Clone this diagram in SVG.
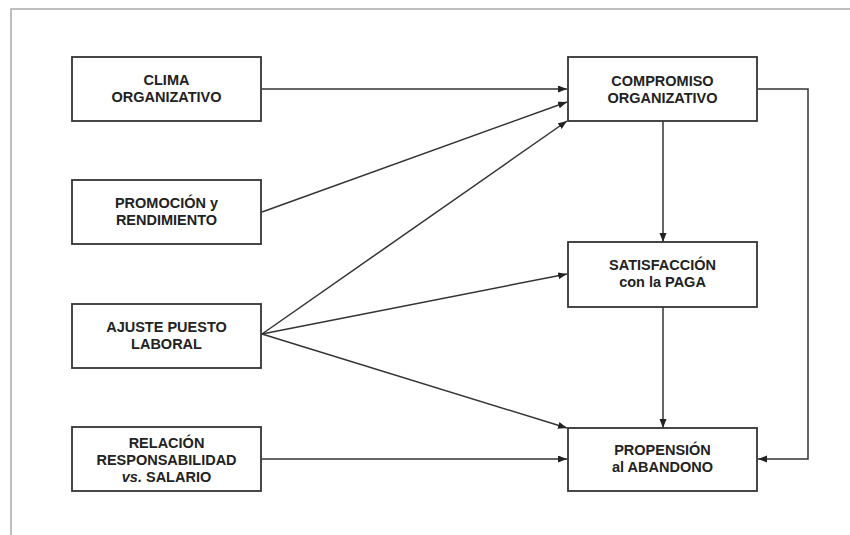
<svg xmlns="http://www.w3.org/2000/svg" width="850" height="535" viewBox="0 0 850 535">
<style>
.box{fill:#fff;stroke:#333;stroke-width:1.8}
.t{font-family:"Liberation Sans",Arial,sans-serif;font-weight:bold;font-size:14.5px;fill:#222;text-anchor:middle}
.c{fill:none;stroke:#333;stroke-width:1.5}
.frame{fill:none;stroke:#aaa;stroke-width:1.5}
</style>
<defs>
<marker id="ah" markerUnits="userSpaceOnUse" markerWidth="10" markerHeight="8" refX="9" refY="3.5" orient="auto">
<path d="M0,0 L9,3.5 L0,7 z" fill="#222"/>
</marker>
</defs>
<rect width="850" height="535" fill="#fff"/>
<path class="frame" d="M11,535 V9 H850"/>
<g id="connectors">
<line class="c" x1="262" y1="89" x2="567" y2="89" marker-end="url(#ah)"/>
<line class="c" x1="262" y1="212" x2="567" y2="102" marker-end="url(#ah)"/>
<line class="c" x1="262" y1="334" x2="567" y2="121" marker-end="url(#ah)"/>
<line class="c" x1="262" y1="334" x2="567" y2="274" marker-end="url(#ah)"/>
<line class="c" x1="262" y1="334" x2="567" y2="428" marker-end="url(#ah)"/>
<line class="c" x1="262" y1="459" x2="567" y2="459" marker-end="url(#ah)"/>
<line class="c" x1="663" y1="121" x2="663" y2="242" marker-end="url(#ah)"/>
<line class="c" x1="663" y1="307" x2="663" y2="428" marker-end="url(#ah)"/>
<polyline class="c" points="758,89 808,89 808,459 758,459" marker-end="url(#ah)"/>
</g>
<g id="clima">
<rect class="box" x="72" y="57" width="189" height="64"/>
<text class="t" x="166.5" y="85">CLIMA</text>
<text class="t" x="166.5" y="102">ORGANIZATIVO</text>
</g>
<g id="promocion">
<rect class="box" x="72" y="180" width="189" height="64"/>
<text class="t" x="166.5" y="208">PROMOCIÓN y</text>
<text class="t" x="166.5" y="225">RENDIMIENTO</text>
</g>
<g id="ajuste">
<rect class="box" x="72" y="304" width="189" height="64"/>
<text class="t" x="166.5" y="332">AJUSTE PUESTO</text>
<text class="t" x="166.5" y="349">LABORAL</text>
</g>
<g id="relacion">
<rect class="box" x="72" y="427" width="189" height="64"/>
<text class="t" x="166.5" y="448">RELACIÓN</text>
<text class="t" x="166.5" y="465">RESPONSABILIDAD</text>
<text class="t" x="166.5" y="482"><tspan font-style="italic">vs.</tspan> SALARIO</text>
</g>
<g id="compromiso">
<rect class="box" x="568" y="57" width="189" height="64"/>
<text class="t" x="662.5" y="86">COMPROMISO</text>
<text class="t" x="662.5" y="103">ORGANIZATIVO</text>
</g>
<g id="satisfaccion">
<rect class="box" x="568" y="242" width="189" height="65"/>
<text class="t" x="662.5" y="270">SATISFACCIÓN</text>
<text class="t" x="662.5" y="287">con la PAGA</text>
</g>
<g id="propension">
<rect class="box" x="568" y="428" width="189" height="63"/>
<text class="t" x="662.5" y="455">PROPENSIÓN</text>
<text class="t" x="662.5" y="472">al ABANDONO</text>
</g>
</svg>
